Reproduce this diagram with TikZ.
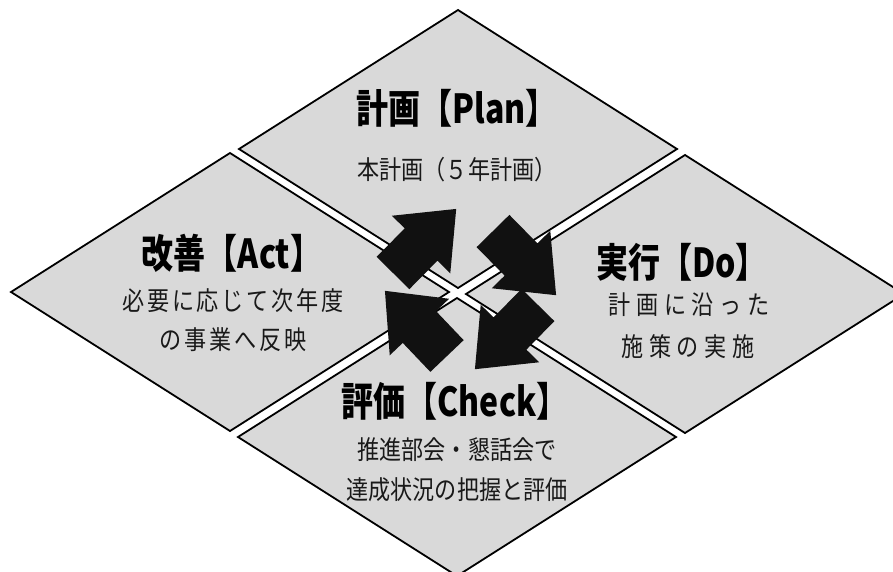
\documentclass[tikz,border=0pt]{standalone}
\usepackage{fontspec}
\newfontfamily\jpt[FakeStretch=0.80]{Noto Sans CJK JP}
\newfontfamily\jp[FakeStretch=0.85]{Noto Sans CJK JP}
\newfontfamily\jpact[FakeStretch=0.85,LetterSpace=11]{Noto Sans CJK JP}
\newfontfamily\jpdo[FakeStretch=0.85,LetterSpace=22]{Noto Sans CJK JP}
\definecolor{diafill}{RGB}{217,217,217}
\definecolor{arrowfill}{RGB}{17,17,17}
\tikzset{
  dia/.style={draw=black, line width=1.8pt, fill=diafill, line join=miter},
  titletext/.style={inner sep=0pt, font=\jpt\bfseries\fontsize{40}{42}\selectfont},
  subtext/.style={inner sep=0pt, font=\jp\fontsize{26}{28}\selectfont, text=black!90},
  acttext/.style={subtext, font=\jpact\fontsize{26}{28}\selectfont},
  dotext/.style={subtext, font=\jpdo\fontsize{26}{28}\selectfont},
  cyclearrow/.style={fill=arrowfill}
}
\newcommand\diamondat[2]{%
  \draw[dia] (#1-219,#2) -- (#1,#2-139) -- (#1+219,#2) -- (#1,#2+139) -- cycle;}
\newcommand\blockarrow[3]{%
  \begin{scope}[shift={(#1,#2)}, rotate=#3]
    \fill[cyclearrow] (0,-23) -- (40,-23) -- (40,-41) -- (90,0) -- (40,41) -- (40,23) -- (0,23) -- cycle;
  \end{scope}}
\begin{document}
\begin{tikzpicture}[x=1pt,y=-1pt]
\useasboundingbox (0,0) rectangle (893,571);
\fill[white] (0,0) rectangle (893,571);
\begin{scope}
\clip (0,0) rectangle (893,571);
% four diamonds
\diamondat{458}{149}
\diamondat{230}{292}
\diamondat{685}{294}
\diamondat{457}{437}
% cycle arrows
\blockarrow{393}{273}{45.4}
\blockarrow{493}{231}{-45.5}
\blockarrow{538}{305}{-134.5}
\blockarrow{447}{356}{133.6}
\end{scope}
% Plan
\node[titletext] (plantitle) at (457,108) {計画【Plan】};
\node[subtext] (plansub) at (457,170) {本計画（５年計画）};
% Act
\node[titletext] (acttitle) at (232,253) {改善【Act】};
\node[acttext] (actsub1) at (233,301) {必要に応じて次年度};
\node[acttext] (actsub2) at (233,340) {の事業へ反映};
% Do
\node[titletext] (dotitle) at (682,262) {実行【Do】};
\node[dotext] (dosub1) at (689,305) {計画に沿った};
\node[dotext] (dosub2) at (688,347) {施策の実施};
% Check
\node[titletext] (checktitle) at (455,401) {評価【Check】};
\node[subtext] (checksub1) at (457,450) {推進部会・懇話会で};
\node[subtext] (checksub2) at (457,490) {達成状況の把握と評価};
\end{tikzpicture}
\end{document}
